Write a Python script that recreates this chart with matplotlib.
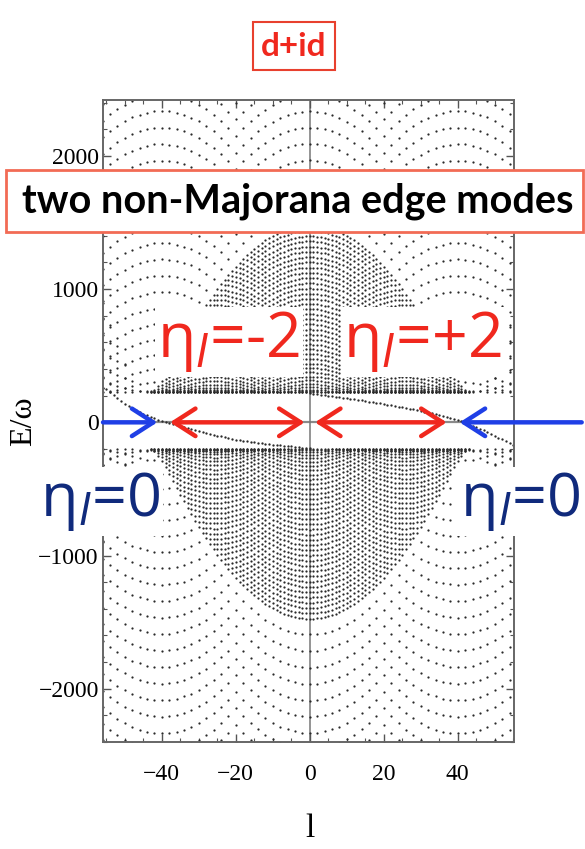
import numpy as np
import matplotlib
matplotlib.use("Agg")
import matplotlib.pyplot as plt
from matplotlib.patches import Rectangle
from matplotlib.ticker import MultipleLocator

# angular momentum grid
l_all = np.arange(-55, 56)        # dense bulk levels (every l)
l_even = np.arange(-56, 57, 2)    # sparse outer levels (even l)

# bulk level energies at l = 0 (E/omega)
dense_levels = [20, 60, 100, 140, 180, 220, 260, 300, 340, 380, 420, 460, 500,
                540, 580, 620, 660, 700, 740, 780, 820, 860, 900, 940, 980,
                1020, 1060, 1100, 1140, 1180, 1220, 1260, 1300, 1340, 1380,
                1420, 1460]
sparse_levels = [1580, 1705, 1830, 1955, 2080, 2200, 2325, 2450, 2575, 2700,
                 2825, 2950, 3075, 3200, 3325, 3450, 3575, 3700, 3825, 3950,
                 4075, 4200, 4325, 4450, 4575, 4700, 4825]
curvature = 0.78     # E/omega per l^2
gap_up = 225
gap_down = 200
band_cut = 90

# the two edge modes
edge1_l = list(range(-55, 1))
edge1_E = [254, 228, 204, 180, 157, 140, 122, 105, 92, 78, 65, 52, 42, 31, 20,
           11, 4, -4, -13, -22, -30, -37, -45, -52, -60, -67, -73, -80, -86,
           -92, -99, -105, -111, -117, -123, -129, -135, -139, -143, -147,
           -151, -155, -158, -161, -164, -167, -170, -172, -175, -178, -181,
           -184, -187, -190, -193, -195]
edge2_l = list(range(-3, 56))
edge2_E = [232, 228, 224, 220, 216, 212, 208, 204, 200, 196, 192, 188, 184, 180,
           176, 172, 168, 164, 160, 156, 151, 147, 142, 138, 133, 128, 123, 118,
           113, 108, 103, 97, 92, 86, 80, 74, 68, 62, 55, 48, 41, 34, 26, 18, 8,
           -2, -13, -24, -36, -48, -61, -74, -87, -100, -114, -128, -142, -156,
           -170]

x_ticks = [-40, -20, 0, 20, 40]
y_ticks = [-2000, -1000, 0, 1000, 2000]


def fx(px):
    return px / 585.0


def fy(py):
    return 1 - py / 849.0


fig = plt.figure(figsize=(5.85, 8.49), dpi=100)
ax = fig.add_axes([fx(103), fy(742), fx(514) - fx(103), fy(100) - fy(742)])

# collect dots of the spectrum
xs, ys = [], []
for A in dense_levels:
    xi = A - curvature * l_all ** 2
    keep = xi > -band_cut
    xs += list(l_all[keep]) * 2
    ys += list(np.sqrt(xi[keep] ** 2 + gap_up ** 2))
    ys += list(-np.sqrt(xi[keep] ** 2 + gap_down ** 2))
for A in sparse_levels:
    xi = A - curvature * l_even ** 2
    xs += list(l_even) * 2
    ys += list(np.sqrt(xi ** 2 + gap_up ** 2))
    ys += list(-np.sqrt(xi ** 2 + gap_down ** 2))

dot = "#2a2a2a"
ax.axhline(0, color="#8a8a8a", lw=1.6, zorder=1)
ax.axvline(0, color="#777777", lw=1.1, zorder=1)
ax.scatter(xs, ys, s=2.6, c=dot, linewidths=0, zorder=2)
ax.scatter(edge1_l, edge1_E, s=2.8, c=dot, linewidths=0, zorder=2)
ax.scatter(edge2_l, edge2_E, s=2.8, c=dot, linewidths=0, zorder=2)

ax.set_xlim(-55.9, 55.2)
ax.set_ylim(-2400, 2420)
ax.set_xticks(x_ticks)
ax.set_yticks(y_ticks)
ax.xaxis.set_minor_locator(MultipleLocator(5))
ax.yaxis.set_minor_locator(MultipleLocator(200))
ax.tick_params(which="both", direction="in", top=True, right=True,
               color="#555555")
ax.tick_params(which="major", length=6, width=1)
ax.tick_params(which="minor", length=3, width=0.8)
ax.tick_params(axis="x", pad=16, labelsize=17)
ax.tick_params(axis="y", pad=3, labelsize=17)
for lab in ax.get_xticklabels() + ax.get_yticklabels():
    lab.set_family("Liberation Serif")
for sp in ax.spines.values():
    sp.set_color("#666666")
    sp.set_linewidth(1.4)

ax.set_xlabel("l", family="Liberation Serif", fontsize=24)
ax.xaxis.set_label_coords(0.5036, -0.112)
ax.set_ylabel("E/ω", family="Liberation Serif", fontsize=23)
ax.yaxis.set_label_coords(-0.158, 0.50)

# arrows along E = 0
blue = "#1f3fe6"
red = "#f0281e"
style = "->,head_length=0.7,head_width=0.45"
ax.annotate("", xy=(-41.2, 0), xytext=(-55.9, 0), annotation_clip=False,
            arrowprops=dict(arrowstyle=style, color=blue, lw=3.2,
                            mutation_scale=22, shrinkA=0, shrinkB=0))
ax.annotate("", xy=(40.5, 0), xytext=(73.5, 0), annotation_clip=False,
            arrowprops=dict(arrowstyle=style, color=blue, lw=3.2,
                            mutation_scale=22, shrinkA=0, shrinkB=0,
                            clip_on=False))
dstyle = "<->,head_length=0.7,head_width=0.45"
ax.annotate("", xy=(-37.8, 0), xytext=(-1.4, 0), annotation_clip=False,
            arrowprops=dict(arrowstyle=dstyle, color=red, lw=3.2,
                            mutation_scale=22, shrinkA=0, shrinkB=0))
ax.annotate("", xy=(1.4, 0), xytext=(37.0, 0), annotation_clip=False,
            arrowprops=dict(arrowstyle=dstyle, color=red, lw=3.2,
                            mutation_scale=22, shrinkA=0, shrinkB=0))

# boxed captions
fig.add_artist(Rectangle((fx(253), fy(70)), fx(335) - fx(253), fy(22) - fy(70),
                         transform=fig.transFigure, facecolor="white",
                         edgecolor="#e8402e", lw=1.5, zorder=5))
fig.text(fx(294), fy(46), "d+id", color=red, family="Lato", weight="bold",
         fontsize=24, ha="center", va="center", zorder=6)
fig.add_artist(Rectangle((fx(6), fy(232)), fx(583) - fx(6), fy(170) - fy(232),
                         transform=fig.transFigure, facecolor="white",
                         edgecolor="#f26b55", lw=2, zorder=5))
fig.text(fx(298), fy(201), "two non-Majorana edge modes", color="black",
         family="Lato", weight="bold", fontsize=28.5, ha="center", va="center",
         zorder=6)

# eta labels
navy = "#102a7c"
wbox = dict(facecolor="white", edgecolor="none", pad=2)
fig.text(fx(157), fy(357), r"η$_{l}$=-2", color=red, family="Open Sans",
         fontsize=45, ha="left", va="baseline", zorder=6, bbox=wbox)
fig.text(fx(343), fy(357), r"η$_{l}$=+2", color=red, family="Open Sans",
         fontsize=45, ha="left", va="baseline", zorder=6, bbox=wbox)
fig.text(fx(40), fy(516), r"η$_{l}$=0", color=navy, family="Open Sans",
         fontsize=44, ha="left", va="baseline", zorder=6, bbox=wbox)
fig.text(fx(460), fy(516), r"η$_{l}$=0", color=navy, family="Open Sans",
         fontsize=44, ha="left", va="baseline", zorder=6, bbox=wbox)

fig.savefig("out.png", dpi=100)
